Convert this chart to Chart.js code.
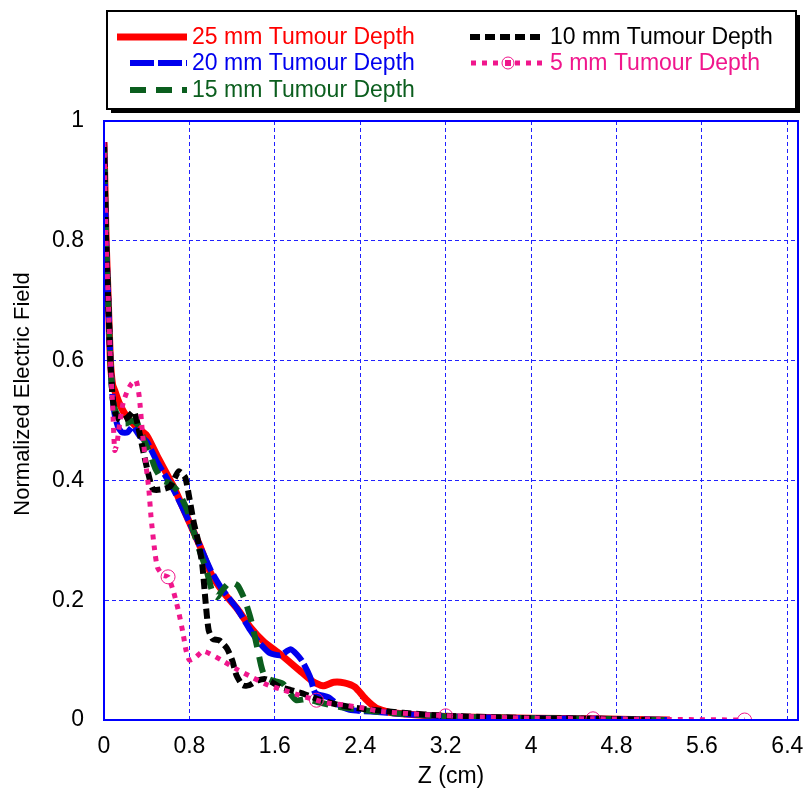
<!DOCTYPE html>
<html>
<head>
<meta charset="utf-8">
<script src="https://cdn.jsdelivr.net/npm/chart.js@4"></script>
<style>
  body { margin: 0; background: #fff; }
  canvas { display: block; }
</style>
</head>
<body>
<canvas id="fieldChart" width="806" height="797"></canvas>
<script>
// tick labels
const xTicks = [0, 0.8, 1.6, 2.4, 3.2, 4, 4.8, 5.6, 6.4];
const yTicks = [0, 0.2, 0.4, 0.6, 0.8, 1];

// 25 mm tumour depth
const z25 = [0, 0.01, 0.02, 0.04, 0.06, 0.08, 0.1, 0.14, 0.2, 0.3, 0.4, 0.5, 0.65, 0.8, 0.9, 1.0, 1.11, 1.25, 1.37, 1.5, 1.65, 1.83, 1.95, 2.05, 2.15, 2.25, 2.35, 2.45, 2.55, 2.7, 3.2, 4.0, 4.6, 5.3];
const e25 = [0.965, 0.88, 0.8, 0.7, 0.6, 0.56, 0.55, 0.53, 0.51, 0.49, 0.475, 0.44, 0.39, 0.33, 0.29, 0.245, 0.215, 0.185, 0.155, 0.13, 0.11, 0.083, 0.065, 0.057, 0.063, 0.062, 0.055, 0.035, 0.02, 0.012, 0.006, 0.003, 0.002, 0];

// 20 mm tumour depth
const z20 = [0, 0.01, 0.02, 0.04, 0.06, 0.08, 0.1, 0.13, 0.17, 0.22, 0.27, 0.33, 0.4, 0.5, 0.65, 0.8, 0.9, 1.0, 1.1, 1.25, 1.37, 1.45, 1.55, 1.65, 1.75, 1.85, 1.93, 1.98, 2.1, 2.2, 2.3, 2.5, 2.8, 3.2, 4.0, 4.6, 5.32];
const e20 = [0.965, 0.88, 0.8, 0.7, 0.6, 0.54, 0.51, 0.49, 0.48, 0.48, 0.49, 0.475, 0.465, 0.43, 0.385, 0.33, 0.29, 0.25, 0.22, 0.185, 0.15, 0.13, 0.112, 0.108, 0.118, 0.1, 0.072, 0.045, 0.038, 0.025, 0.017, 0.014, 0.01, 0.006, 0.003, 0.002, 0];

// 15 mm tumour depth
const z15 = [0, 0.01, 0.02, 0.04, 0.06, 0.08, 0.1, 0.14, 0.2, 0.27, 0.33, 0.38, 0.43, 0.48, 0.55, 0.62, 0.7, 0.78, 0.83, 0.9, 0.96, 1.01, 1.06, 1.1, 1.18, 1.25, 1.32, 1.38, 1.44, 1.47, 1.5, 1.55, 1.6, 1.68, 1.74, 1.8, 1.9, 2.0, 2.2, 2.5, 2.8, 3.2, 4.0, 4.6, 5.25];
const e15 = [0.965, 0.88, 0.8, 0.7, 0.6, 0.54, 0.52, 0.505, 0.495, 0.5, 0.49, 0.465, 0.445, 0.42, 0.4, 0.395, 0.38, 0.35, 0.32, 0.28, 0.25, 0.217, 0.205, 0.215, 0.23, 0.225, 0.2, 0.165, 0.117, 0.092, 0.075, 0.068, 0.065, 0.06, 0.045, 0.033, 0.035, 0.03, 0.022, 0.015, 0.01, 0.006, 0.003, 0.002, 0];

// 10 mm tumour depth
const z10 = [0, 0.01, 0.02, 0.04, 0.06, 0.08, 0.1, 0.15, 0.22, 0.28, 0.32, 0.36, 0.41, 0.46, 0.54, 0.62, 0.7, 0.76, 0.8, 0.84, 0.88, 0.92, 0.95, 0.98, 1.02, 1.08, 1.15, 1.2, 1.24, 1.3, 1.36, 1.44, 1.52, 1.65, 1.75, 1.88, 2.0, 2.2, 2.45, 2.8, 3.2, 4.0, 4.6, 5.17];
const e10 = [0.965, 0.88, 0.8, 0.7, 0.6, 0.54, 0.515, 0.5, 0.505, 0.515, 0.49, 0.455, 0.415, 0.385, 0.385, 0.39, 0.415, 0.405, 0.37, 0.33, 0.3, 0.26, 0.2, 0.15, 0.135, 0.133, 0.12, 0.1, 0.075, 0.058, 0.058, 0.066, 0.068, 0.055, 0.05, 0.043, 0.035, 0.025, 0.018, 0.012, 0.007, 0.003, 0.002, 0];

// 5 mm tumour depth
const z5 = [0, 0.01, 0.02, 0.04, 0.06, 0.08, 0.1, 0.12, 0.15, 0.18, 0.22, 0.26, 0.3, 0.33, 0.36, 0.39, 0.42, 0.44, 0.47, 0.5, 0.55, 0.6, 0.65, 0.7, 0.74, 0.77, 0.8, 0.86, 0.93, 1.1, 1.24, 1.38, 1.54, 1.68, 1.82, 1.99, 2.11, 2.25, 2.43, 2.6, 3.2, 4.0, 4.58, 5.2, 6.0];
const e5 = [0.965, 0.88, 0.8, 0.7, 0.6, 0.53, 0.45, 0.46, 0.5, 0.53, 0.55, 0.562, 0.567, 0.54, 0.48, 0.43, 0.385, 0.34, 0.29, 0.255, 0.242, 0.239, 0.215, 0.18, 0.145, 0.115, 0.1, 0.105, 0.115, 0.1, 0.085, 0.072, 0.058, 0.05, 0.042, 0.033, 0.028, 0.025, 0.02, 0.014, 0.007, 0.003, 0.002, 0.001, 0];
const z5Marks = [0.6, 1.99, 3.2, 4.58, 6.0];

const yTitle = "Normalized Electric Field";

const toPoints = (zs, es) => zs.map((z, i) => ({ x: z, y: es[i] }));

const FONT = "'Liberation Sans', Arial, sans-serif";
const GRID_BLUE = "#2020ff";

const datasets = [
  { label: "25 mm Tumour Depth", data: toPoints(z25, e25), borderColor: "#ff0000", borderWidth: 7, borderDash: [], order: 4 },
  { label: "20 mm Tumour Depth", data: toPoints(z20, e20), borderColor: "#0000ee", borderWidth: 6, borderDash: [24, 4], order: 3 },
  { label: "15 mm Tumour Depth", data: toPoints(z15, e15), borderColor: "#0b5e1e", borderWidth: 6, borderDash: [16, 10], order: 2 },
  { label: "10 mm Tumour Depth", data: toPoints(z10, e10), borderColor: "#000000", borderWidth: 6, borderDash: [10, 5], order: 1 },
  {
    label: "5 mm Tumour Depth", data: toPoints(z5, e5), borderColor: "#f0168c", borderWidth: 5, borderDash: [5, 6], order: 0,
    pointRadius: (ctx) => (z5Marks.includes(z5[ctx.dataIndex]) ? 7 : 0),
    pointBorderWidth: 1, pointBorderColor: "#f0168c", pointBackgroundColor: "rgba(0,0,0,0)",
  },
];
datasets.forEach((d) => {
  d.fill = false;
  d.tension = 0.2;
  if (d.pointRadius === undefined) d.pointRadius = 0;
  d.borderCapStyle = "butt";
});

// box legend in two columns, blue frame round the plot, y title (sits a bit above centre in the original)
const boxLegend = {
  id: "boxLegend",
  afterDatasetsDraw(chart) {
    const { ctx, chartArea: a } = chart;
    ctx.save();
    ctx.strokeStyle = "#0000ff";
    ctx.lineWidth = 2;
    ctx.setLineDash([]);
    ctx.strokeRect(a.left, a.top, a.right - a.left, a.bottom - a.top);
    ctx.restore();
  },
  afterDraw(chart) {
    const ctx = chart.ctx;

    ctx.save();
    ctx.translate(23, 394);
    ctx.rotate(-Math.PI / 2);
    ctx.font = "22px " + FONT;
    ctx.fillStyle = "#000";
    ctx.textAlign = "center";
    ctx.textBaseline = "middle";
    ctx.fillText(yTitle, 0, 0);
    ctx.restore();

    const bx = 107, by = 11, bw = 689, bh = 98;
    ctx.save();
    ctx.fillStyle = "#000";
    ctx.fillRect(bx + 4, by + 4, bw, bh);
    ctx.fillStyle = "#fff";
    ctx.fillRect(bx, by, bw, bh);
    ctx.strokeStyle = "#000";
    ctx.lineWidth = 2;
    ctx.strokeRect(bx, by, bw, bh);

    const slots = [
      { x0: 117, x1: 187, y: 37 },
      { x0: 130, x1: 187, y: 63 },
      { x0: 130, x1: 187, y: 90 },
      { x0: 470, x1: 545, y: 37 },
      { x0: 471, x1: 545, y: 63 },
    ];
    ctx.font = "23px " + FONT;
    ctx.textBaseline = "middle";
    chart.data.datasets.forEach((d, i) => {
      const s = slots[i];
      ctx.strokeStyle = d.borderColor;
      ctx.lineWidth = d.borderWidth;
      ctx.lineCap = "butt";
      ctx.setLineDash(d.borderDash);
      ctx.beginPath();
      ctx.moveTo(s.x0, s.y);
      ctx.lineTo(s.x1, s.y);
      ctx.stroke();
      if (i === 4) {
        ctx.setLineDash([]);
        ctx.lineWidth = 1;
        ctx.fillStyle = "#fff";
        ctx.beginPath();
        ctx.arc(508, s.y, 6, 0, Math.PI * 2);
        ctx.fill();
        ctx.stroke();
        ctx.fillStyle = d.borderColor;
        ctx.fillRect(505, s.y - 3, 6, 6);
      }
      ctx.fillStyle = d.borderColor;
      ctx.fillText(d.label, s.x1 + 5, s.y + 1);
    });
    ctx.restore();
  },
};

new Chart(document.getElementById("fieldChart").getContext("2d"), {
  type: "line",
  data: { datasets },
  options: {
    responsive: false,
    animation: false,
    layout: { padding: { top: 121, right: 8, left: 0, bottom: 0 } },
    plugins: { legend: { display: false }, tooltip: { enabled: false } },
    scales: {
      x: {
        type: "linear",
        min: 0,
        max: 6.5,
        afterFit: (s) => { s.height = 77; s.paddingLeft = 0; s.paddingRight = 0; },
        afterBuildTicks: (s) => { s.ticks = xTicks.map((v) => ({ value: v })); },
        ticks: {
          padding: 13,
          color: "#000",
          font: { family: FONT, size: 23 },
          maxRotation: 0,
          autoSkip: false,
          callback: (v) => String(Math.round(v * 10) / 10),
        },
        grid: { color: GRID_BLUE, lineWidth: 1, drawTicks: false },
        border: { display: true, color: "#0000ff", width: 2, dash: [4, 3] },
        title: { display: true, text: "Z (cm)", color: "#000", font: { family: FONT, size: 23 }, padding: { top: 0, bottom: 7 } },
      },
      y: {
        min: 0,
        max: 1,
        afterFit: (s) => { s.width = 104; s.paddingTop = 0; s.paddingBottom = 0; },
        afterBuildTicks: (s) => { s.ticks = yTicks.map((v) => ({ value: v })); },
        ticks: {
          padding: 20,
          color: "#000",
          font: { family: FONT, size: 23 },
          callback: (v) => String(Math.round(v * 10) / 10),
        },
        grid: { color: GRID_BLUE, lineWidth: 1, drawTicks: false },
        border: { display: true, color: "#0000ff", width: 2, dash: [4, 3] },
        title: { display: false },
      },
    },
  },
  plugins: [boxLegend],
});
</script>
</body>
</html>
